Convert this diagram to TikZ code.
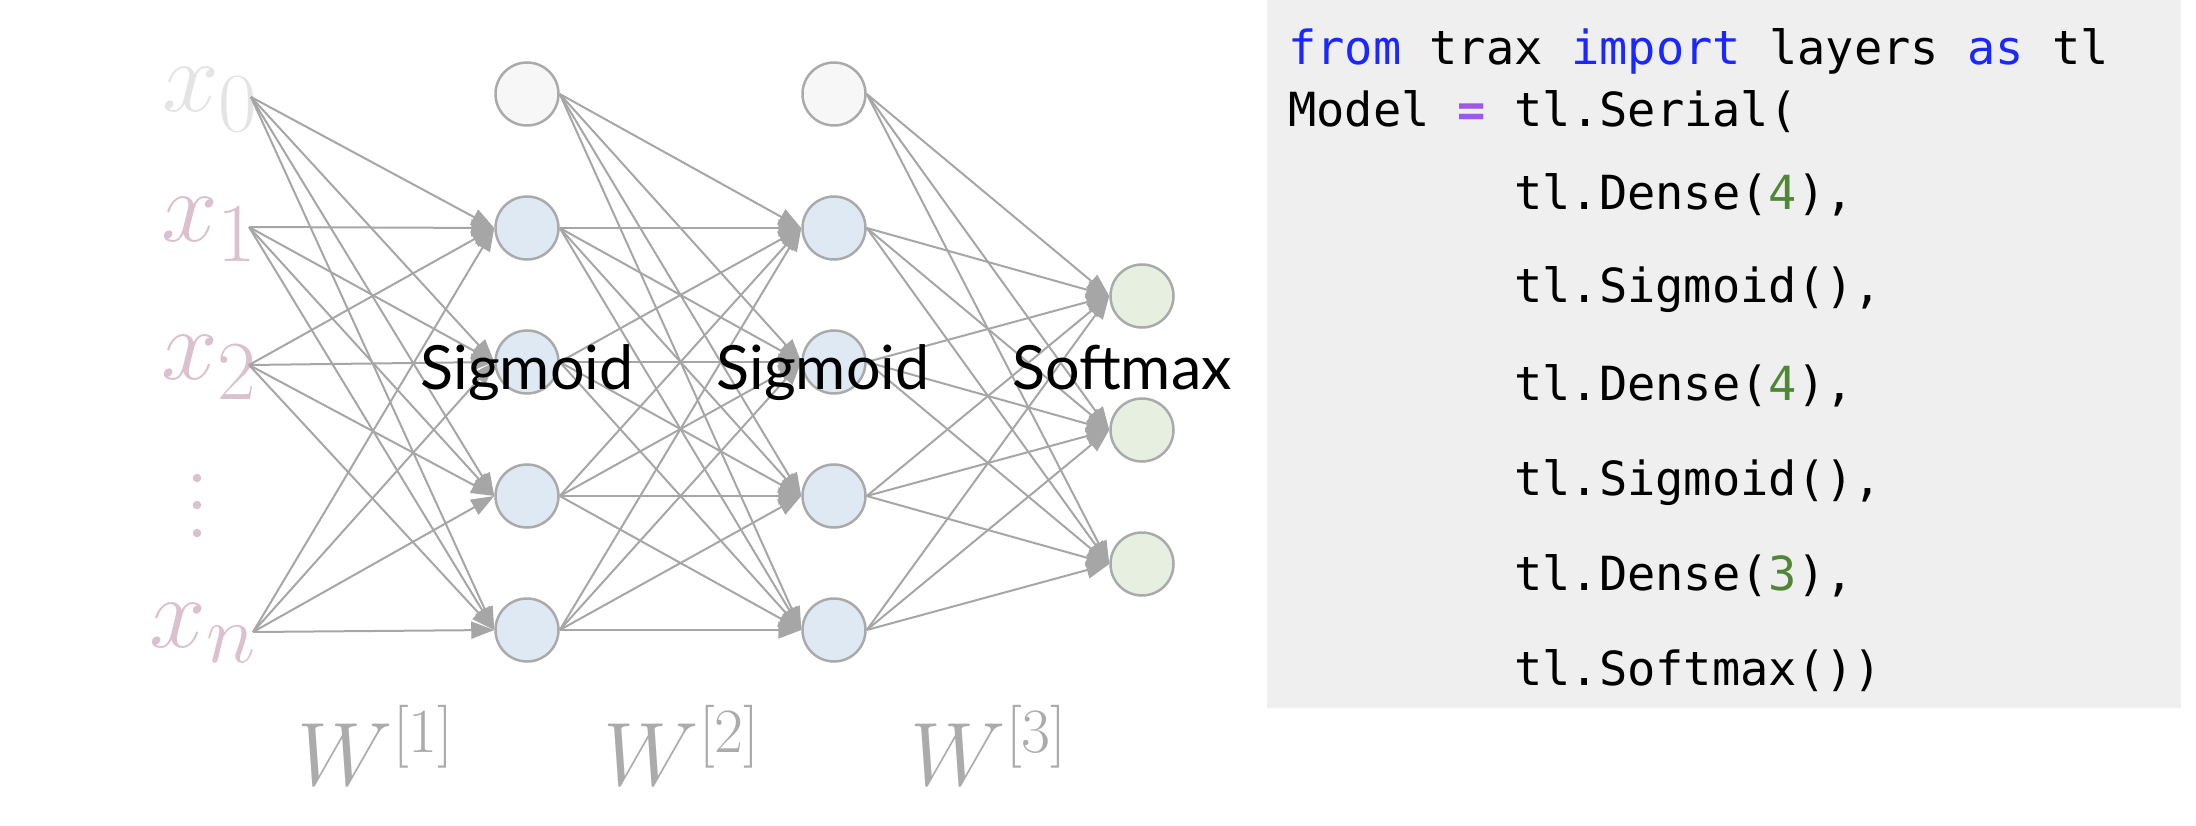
\RequirePackage{fix-cm}
\documentclass[tikz,border=0pt]{standalone}
\usepackage{fontspec}
\setmonofont{DejaVu Sans Mono}
\newfontfamily\latofont{Lato}
\usetikzlibrary{arrows.meta}
\DeclareMathSizes{102}{102}{84}{62}
\DeclareMathSizes{90}{90}{63}{45}
\definecolor{edgegray}{RGB}{166,166,166}
\definecolor{nodegray}{RGB}{170,170,170}
\definecolor{biasfill}{RGB}{247,247,247}
\definecolor{hidfill}{RGB}{223,233,244}
\definecolor{outfill}{RGB}{230,239,224}
\definecolor{xpink}{RGB}{219,193,206}
\definecolor{xlight}{RGB}{228,228,228}
\definecolor{wgray}{RGB}{171,171,171}
\definecolor{codebg}{RGB}{239,239,239}
\definecolor{kwblue}{RGB}{26,40,255}
\definecolor{oppurple}{RGB}{155,90,225}
\definecolor{numgreen}{RGB}{80,135,55}
\tikzset{
  neuron/.style={circle, draw=nodegray, line width=2.5pt, minimum size=63pt, inner sep=0pt},
  bias/.style={neuron, fill=biasfill},
  hid/.style={neuron, fill=hidfill},
  outn/.style={neuron, fill=outfill},
  edge/.style={draw=edgegray, line width=2pt, -{Triangle[length=23pt,width=17pt]}},
  xlab/.style={anchor=base east, inner sep=0pt, font=\fontsize{102}{106}\selectfont},
  wlab/.style={anchor=base, inner sep=0pt, text=wgray, font=\fontsize{90}{94}\selectfont},
  actlab/.style={anchor=base, inner sep=0pt, font=\latofont\fontsize{61}{66}\selectfont},
  codeline/.style={anchor=base west, inner sep=0pt, font=\ttfamily\fontsize{47}{50}\selectfont},
  dotnode/.style={circle, fill=xpink, inner sep=0pt, minimum size=8.5pt}
}
\begin{document}
\begin{tikzpicture}[x=1pt, y=-1pt]
\useasboundingbox (0,0) rectangle (2196,826);
% code box
\fill[codebg] (1267,0) rectangle (2181,708);
% input start points and labels
\coordinate (i0) at (251,97);
\coordinate (i1) at (249,227);
\coordinate (i2) at (249,365);
\coordinate (in) at (253,632);
\node[xlab, text=xlight] (x0) at (258,112) {$x_{0}$};
\node[xlab, text=xpink] (x1) at (257,242) {$x_{1}$};
\node[xlab, text=xpink] (x2) at (257,380) {$x_{2}$};
\node[xlab, text=xpink] (xn) at (256,647) {$x_{n}$};
\node[dotnode] (d1) at (197,478) {};
\node[dotnode] (d2) at (197,505) {};
\node[dotnode] (d3) at (197,533) {};
% layers
\node[bias] (a0) at (527,94) {};
\node[hid] (a1) at (527,228) {};
\node[hid] (a2) at (527,362) {};
\node[hid] (a3) at (527,496) {};
\node[hid] (a4) at (527,630) {};
\node[bias] (b0) at (834,94) {};
\node[hid] (b1) at (834,228) {};
\node[hid] (b2) at (834,362) {};
\node[hid] (b3) at (834,496) {};
\node[hid] (b4) at (834,630) {};
\node[outn] (c1) at (1142,296) {};
\node[outn] (c2) at (1142,430) {};
\node[outn] (c3) at (1142,564) {};
% edges
\foreach \i in {0,1,2,n} {
  \foreach \j in {1,...,4} {
    \draw[edge] (i\i) -- (a\j.west);
  }
}
\foreach \i in {0,...,4} {
  \foreach \j in {1,...,4} {
    \draw[edge] (a\i.east) -- (b\j.west);
  }
}
\foreach \i in {0,...,4} {
  \foreach \j in {1,2,3} {
    \draw[edge] (b\i.east) -- (c\j.west);
  }
}
% activation labels
\node[actlab] (s1) at (527,389) {Sigmoid};
\node[actlab] (s2) at (823,389) {Sigmoid};
\node[actlab] (s3) at (1122,389) {Softmax};
% weight labels
\node[wlab] (w1) at (376,785) {$W^{[1]}$};
\node[wlab] (w2) at (682,785) {$W^{[2]}$};
\node[wlab] (w3) at (989,785) {$W^{[3]}$};
% code
\node[codeline] (l1) at (1288,65) {\textcolor{kwblue}{from} trax \textcolor{kwblue}{import} layers \textcolor{kwblue}{as} tl};
\node[codeline] (l2) at (1288,127) {Model \textcolor{oppurple}{\bfseries =} tl.Serial(};
\node[codeline] (l3) at (1514,210) {tl.Dense(\textcolor{numgreen}{4}),};
\node[codeline] (l4) at (1514,303) {tl.Sigmoid(),};
\node[codeline] (l5) at (1514,400) {tl.Dense(\textcolor{numgreen}{4}),};
\node[codeline] (l6) at (1514,495) {tl.Sigmoid(),};
\node[codeline] (l7) at (1514,590) {tl.Dense(\textcolor{numgreen}{3}),};
\node[codeline] (l8) at (1514,685) {tl.Softmax())};
\end{tikzpicture}
\end{document}
